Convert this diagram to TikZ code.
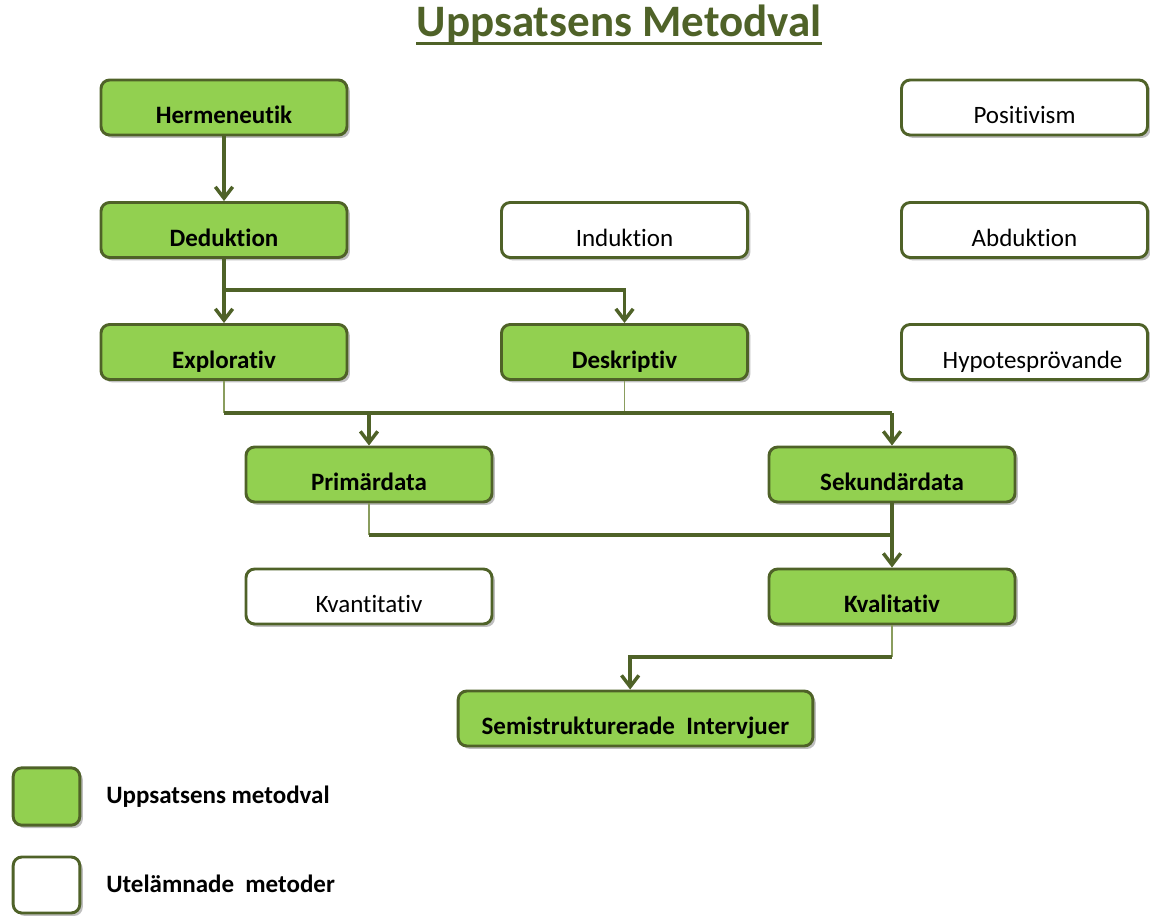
\documentclass[tikz,border=0pt]{standalone}
\usepackage{fontspec}
\setmainfont{Carlito}[Ligatures=NoCommon]
\usetikzlibrary{arrows.meta, shadows}
\definecolor{frameolive}{HTML}{4F6228}
\definecolor{thinolive}{HTML}{8A9D5E}
\definecolor{leafgreen}{HTML}{92D050}

\begin{document}
\begin{tikzpicture}[
  x=0.75pt, y=-0.75pt,
  >={Straight Barb[length=8.5pt, width=13pt]},
  font=\fontsize{18.75}{22}\selectfont,
  method/.style={draw=frameolive, line width=2.2pt, rounded corners=6.5pt,
    minimum width=184.5pt, minimum height=41.25pt, inner sep=0pt,
    text height=24pt, text depth=0pt,
    drop shadow={shadow xshift=2.2pt, shadow yshift=-2.2pt, opacity=0.25, fill=black}},
  chosen/.style={method, fill=leafgreen, font=\fontsize{18.75}{22}\selectfont\bfseries},
  omitted/.style={method, fill=white},
  keytext/.style={anchor=base west, inner sep=0pt, font=\fontsize{18.75}{22}\selectfont\bfseries},
  flow/.style={draw=frameolive, line width=2.6pt},
  feeder/.style={draw=thinolive, line width=0.8pt},
  ]
  \useasboundingbox (0,0) rectangle (1150,915);

  % title, underlined
  \node[frameolive, anchor=base, inner sep=0pt] (title) at (619,36)
    {\fontsize{33.75}{40}\selectfont\bfseries Uppsatsens Metodval};
  \draw[frameolive, line width=2.2pt] ([yshift=-5.5pt]title.base west) -- ([yshift=-5.5pt]title.base east);

  % method boxes, row by row
  \node[chosen]  (herm) at (224,107.5)    {Hermeneutik};
  \node[omitted] (posi) at (1024.5,107.5) {Positivism};

  \node[chosen]  (dedu) at (224,230)      {Deduktion};
  \node[omitted] (indu) at (624.5,230)    {Induktion};
  \node[omitted] (abdu) at (1024.5,230)   {Abduktion};

  \node[chosen]  (expl) at (224,352)      {Explorativ};
  \node[chosen]  (desk) at (624.5,352)    {Deskriptiv};
  \node[omitted] (hypo) at (1024.5,352)   {\hspace{12pt}Hypotesprövande};

  \node[chosen]  (prim) at (369,474.5)    {Primärdata};
  \node[chosen]  (seku) at (892,474.5)    {Sekundärdata};

  \node[omitted] (kvan) at (369,596.5)    {Kvantitativ};
  \node[chosen]  (kval) at (892,596.5)    {Kvalitativ};

  \node[chosen, minimum width=266pt] (semi) at (635.5,718.5)
    {Semistrukturerade\ \ Intervjuer};

  % junction points of the connectors
  \coordinate (split) at (224,290);
  \coordinate (busA)  at (224,413);
  \coordinate (busB)  at (369,535);
  \coordinate (busC)  at (892,657);

  % connectors
  \draw[flow, ->] (herm) -- (dedu);
  \draw[flow, ->] (dedu) -- (expl);
  \draw[flow, ->] (split) -| (desk.north);

  \draw[feeder] (expl.south) -- (busA);
  \draw[feeder] (desk.south) -- (desk.south |- busA);
  \draw[flow] (busA) -- (seku.north |- busA);
  \draw[flow, ->] (prim.north |- busA) -- (prim.north);
  \draw[flow, ->] (seku.north |- busA) -- (seku.north);

  \draw[feeder] (prim.south) -- (busB);
  \draw[flow] (busB) -- (seku.south |- busB);
  \draw[flow, ->] (seku) -- (kval);

  \draw[feeder] (kval.south) -- (busC);
  \draw[flow, ->] (busC) -| ([xshift=-4pt]semi.north);

  % legend
  \node[method, fill=leafgreen, minimum width=50pt, minimum height=43pt] (keyA) at (46.5,796.5) {};
  \node[method, fill=white, minimum width=50pt, minimum height=42pt] (keyB) at (46.5,885) {};
  \node[keytext] (textA) at (106,803) {Uppsatsens metodval};
  \node[keytext] (textB) at (106,892) {Utelämnade\ \ metoder};
\end{tikzpicture}
\end{document}
